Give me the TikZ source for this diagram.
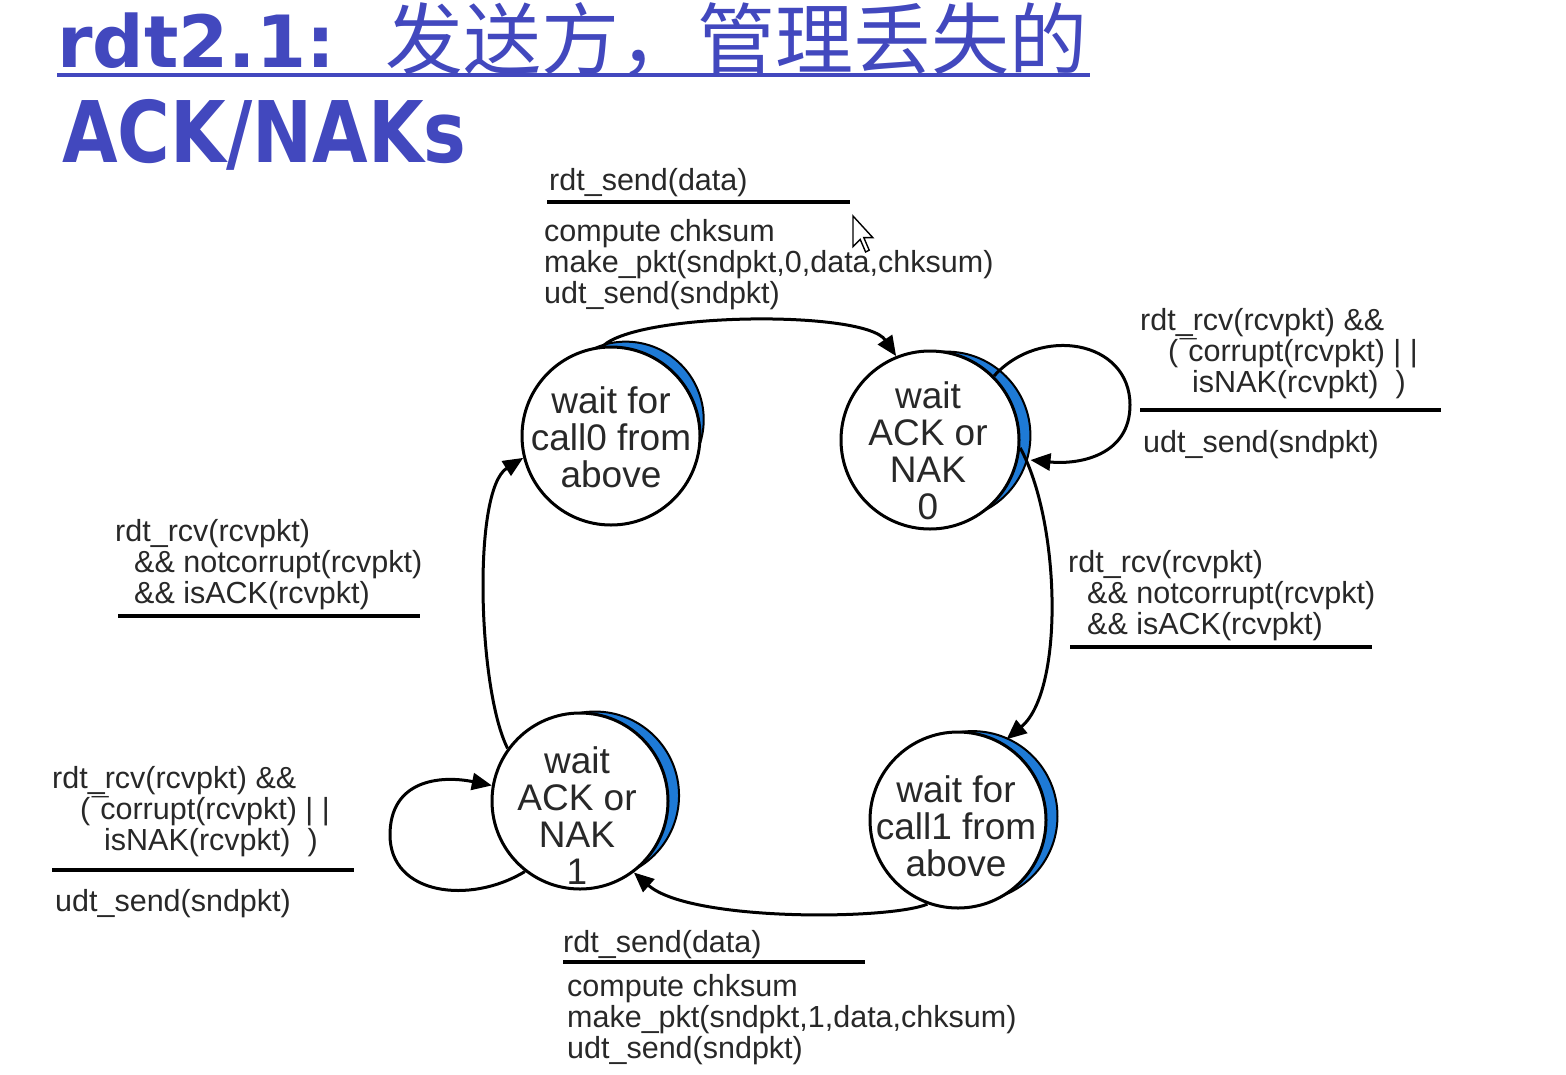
\documentclass[tikz,border=0pt]{standalone}
\usepackage{fontspec}
\setmainfont{Liberation Sans}
\newfontfamily\titlefont{DejaVu Sans}
\newfontfamily\cjkfont{Noto Sans CJK SC}
\usetikzlibrary{arrows.meta,calc,backgrounds}
\definecolor{titleblue}{RGB}{66,72,190}
\definecolor{shadeblue}{RGB}{30,122,214}
\definecolor{inkgray}{RGB}{40,40,40}

\begin{document}
\begin{tikzpicture}[x=1pt,y=-1pt,
  state/.style={circle,draw=black,fill=white,line width=3pt,minimum size=178pt,inner sep=0pt},
  statetext/.style={align=center,inner sep=0pt,font=\fontsize{37}{37}\selectfont,text=inkgray},
  lbl/.style={anchor=base west,inner sep=0pt,font=\fontsize{30.5}{31}\selectfont,text=inkgray},
  guard/.style={line width=3.5pt,black},
  trans/.style={line width=3pt,black,-{Triangle[length=20pt,width=17pt]}},
  heading/.style={anchor=base west,inner sep=0pt,text=titleblue},
]
\useasboundingbox (0,0) rectangle (1566,1074);
\begin{scope}[on background layer]
  \fill[white] (0,0) rectangle (1566,1074);
\end{scope}

% heading
\node[heading,font=\titlefont\bfseries\fontsize{72}{72}\selectfont] (t1) at (57,67) {rdt2.1:};
\node[heading,font=\cjkfont\fontsize{78}{78}\selectfont] (t2) at (385,68) {发送方，管理丢失的};
\draw[titleblue,line width=4pt] (57,75) -- (1090,75);
\node[heading,font=\titlefont\bfseries\fontsize{85}{85}\selectfont] (t3) at (62,162) {\scalebox{0.845}[1]{ACK/NAKs}};

% states
\node[state] (s0) at (611,436) {};
\node[state] (s1) at (930,440) {};
\node[state,minimum size=176pt] (s2) at (958,820) {};
\node[state,minimum size=176pt] (s3) at (580,801) {};

\node[statetext] (s0t) at (611,437) {wait for\\call0 from\\above};
\node[statetext] (s1t) at (928,451) {wait\\ACK or\\NAK\\0};
\node[statetext] (s2t) at (956,826) {wait for\\call1 from\\above};
\node[statetext] (s3t) at (577,816) {wait\\ACK or\\NAK\\1};

% blue crescents: a smaller offset circle peeking out behind each state
\begin{scope}[on background layer]
\foreach \nm/\angT/\dist/\rad in {s0/48/22/78, s1/15/17/84, s2/15/15/85, s3/20/16/84}{
  \filldraw[fill=shadeblue,draw=black,line width=2pt] ($(\nm.center)+(\angT:\dist pt)$) circle[radius=\rad pt];
}
\end{scope}

% transitions
\draw[trans] (s0.95) .. controls (640,312) and (865,310) .. (s1.112);
\draw[trans,shorten >=12pt] (s1.45) .. controls (1040,325) and (1130,340) .. (1130,405)
      .. controls (1130,455) and (1080,465) .. (s1.-12);
\draw[trans,shorten >=5pt] (s1.-5) .. controls (1060,520) and (1065,690) .. (s2.60);
\draw[trans] (s2.250) .. controls (890,920) and (690,922) .. (s3.-53);
\draw[trans] (s3.-128) .. controls (470,905) and (390,895) .. (390,835)
      .. controls (390,780) and (440,775) .. (s3.170);
\draw[trans] (s3.144) .. controls (478,690) and (472,490) .. (s0.194);

% top label
\node[lbl] (a1) at (549,190) {rdt\_send(data)};
\draw[guard] (547,202) -- (850,202);
\node[lbl] (a2) at (544,241) {compute chksum};
\node[lbl] (a3) at (544,272) {make\_pkt(sndpkt,0,data,chksum)};
\node[lbl] (a4) at (544,303) {udt\_send(sndpkt)};

% right top label
\node[lbl] (b1) at (1140,330) {rdt\_rcv(rcvpkt) \&\&};
\node[lbl] (b2) at (1168,361) {(\hspace{10pt}\makebox[0pt]{¯}corrupt(rcvpkt) | |};
\node[lbl] (b3) at (1192,392) {isNAK(rcvpkt) \ )};
\draw[guard] (1140,410) -- (1441,410);
\node[lbl] (b4) at (1143,452) {udt\_send(sndpkt)};

% right middle label
\node[lbl] (c1) at (1068,572) {rdt\_rcv(rcvpkt)};
\node[lbl] (c2) at (1087,603) {\&\& notcorrupt(rcvpkt)};
\node[lbl] (c3) at (1087,634) {\&\& isACK(rcvpkt)};
\draw[guard] (1070,647) -- (1372,647);

% left middle label
\node[lbl] (d1) at (115,541) {rdt\_rcv(rcvpkt)};
\node[lbl] (d2) at (134,572) {\&\& notcorrupt(rcvpkt)};
\node[lbl] (d3) at (134,603) {\&\& isACK(rcvpkt)};
\draw[guard] (118,616) -- (420,616);

% left bottom label
\node[lbl] (e1) at (52,788) {rdt\_rcv(rcvpkt) \&\&};
\node[lbl] (e2) at (80,819) {(\hspace{10pt}\makebox[0pt]{¯}corrupt(rcvpkt) | |};
\node[lbl] (e3) at (104,850) {isNAK(rcvpkt) \ )};
\draw[guard] (52,870) -- (354,870);
\node[lbl] (e4) at (55,911) {udt\_send(sndpkt)};

% bottom label
\node[lbl] (f1) at (563,952) {rdt\_send(data)};
\draw[guard] (563,962) -- (865,962);
\node[lbl] (f2) at (567,996) {compute chksum};
\node[lbl] (f3) at (567,1027) {make\_pkt(sndpkt,1,data,chksum)};
\node[lbl] (f4) at (567,1058) {udt\_send(sndpkt)};

% mouse pointer
\draw[fill=white,line width=1.4pt,line join=miter] (853,216) -- ++(0,30.6) -- ++(7.2,-7.2)
  -- ++(5.4,12.6) -- ++(3.6,-1.8) -- ++(-5.4,-12.6) -- ++(9,0) -- cycle;
\end{tikzpicture}
\end{document}
